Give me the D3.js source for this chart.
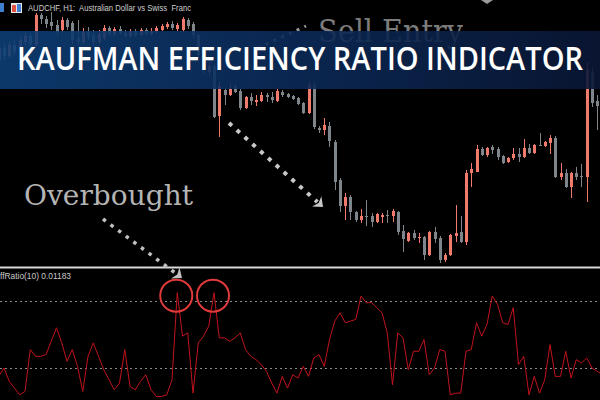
<!DOCTYPE html>
<html><head><meta charset="utf-8">
<script src="https://cdn.jsdelivr.net/npm/d3@7"></script>
<style>html,body{margin:0;padding:0;background:#000;overflow:hidden}</style>
</head><body><svg id="c" width="600" height="400"></svg>
<script>
// ---- data (prices in points, 1e-5 AUDCHF) ----
const openP = [64940,64952,64944,64955,64948,64958,64964,64955,64985,64981,64978,64975,64970,64980,64977,64962,64958,64968,64965,64958,64962,64972,64966,64971,64967,64964,64969,64965,64970,64966,64969,64970,64973,64976,64971,64970,64980,64976,64965,64945,64928,64934,64884,64910,64905,64914,64909,64892,64903,64898,64899,64905,64903,64899,64908,64906,64904,64902,64897,64887,64915,64872,64870,64874,64858,64820,64794,64803,64788,64780,64784,64784,64778,64783,64785,64784,64788,64769,64759,64767,64762,64763,64745,64768,64762,64740,64745,64764,64768,64758,64827,64828,64851,64845,64853,64851,64844,64838,64842,64846,64843,64852,64847,64855,64854,64857,64862,64823,64827,64813,64827,64824,64823,64928,64899,64894];
const highP = [64955,64956,64958,64960,64963,64967,64967,64987,64987,64984,64988,64980,64983,64982,64979,64980,64972,64973,64970,64970,64975,64974,64973,64974,64970,64971,64971,64972,64972,64972,64974,64976,64978,64979,64977,64983,64982,64978,64967,64948,64938,64936,64918,64912,64916,64916,64911,64904,64907,64905,64908,64907,64908,64911,64910,64907,64905,64903,64898,64918,64918,64874,64882,64878,64860,64822,64807,64805,64789,64791,64800,64787,64787,64787,64790,64791,64789,64775,64768,64770,64767,64764,64769,64773,64764,64747,64766,64795,64784,64830,64837,64855,64853,64853,64855,64853,64845,64843,64852,64852,64861,64856,64856,64867,64859,64865,64864,64837,64831,64828,64833,64836,64938,64932,64905,64896];
const lowP = [64938,64940,64942,64945,64946,64955,64952,64953,64976,64972,64970,64964,64968,64970,64956,64955,64956,64960,64955,64956,64960,64964,64964,64965,64962,64962,64963,64964,64964,64965,64967,64969,64971,64970,64969,64968,64971,64962,64942,64926,64924,64882,64863,64895,64904,64907,64890,64891,64895,64894,64898,64898,64897,64898,64903,64902,64900,64895,64886,64886,64871,64867,64865,64853,64810,64788,64780,64780,64778,64777,64774,64773,64777,64777,64777,64778,64765,64748,64758,64760,64757,64740,64744,64757,64737,64738,64744,64758,64757,64755,64813,64828,64844,64843,64846,64840,64836,64837,64840,64838,64842,64846,64846,64854,64853,64846,64822,64820,64812,64802,64820,64813,64798,64893,64870,64885];
const closeP = [64952,64944,64955,64948,64960,64964,64956,64985,64981,64976,64974,64968,64980,64973,64960,64958,64968,64964,64958,64966,64972,64966,64971,64967,64964,64969,64965,64970,64966,64969,64972,64974,64976,64972,64975,64981,64974,64965,64945,64930,64934,64883,64914,64905,64911,64908,64892,64903,64899,64900,64905,64903,64900,64909,64905,64903,64901,64896,64887,64915,64873,64870,64875,64859,64818,64794,64803,64788,64780,64784,64783,64778,64786,64785,64784,64789,64768,64761,64767,64762,64763,64745,64768,64761,64740,64745,64765,64767,64758,64827,64831,64851,64845,64852,64850,64843,64837,64842,64846,64843,64852,64847,64855,64854,64858,64862,64823,64827,64813,64827,64823,64823,64930,64897,64894,64888];
const erValues = [0.15,0.20,0.12,0.08,0.04,0.06,0.31,0.27,0.27,0.28,
 0.36,0.44,0.35,0.24,0.31,0.21,0.06,0.27,0.35,0.27,
 0.19,0.13,0.07,0.11,0.31,0.09,0.07,0.12,0.16,0.07,
 0.03,0.03,0.04,0.13,0.65,0.39,0.41,0.05,0.35,0.39,
 0.45,0.65,0.38,0.38,0.36,0.38,0.41,0.31,0.27,0.25,
 0.22,0.18,0.11,0.05,0.15,0.08,0.16,0.14,0.21,0.15,
 0.26,0.28,0.21,0.37,0.48,0.53,0.47,0.48,0.49,0.63,
 0.59,0.59,0.56,0.53,0.41,0.10,0.41,0.38,0.19,0.30,
 0.30,0.37,0.16,0.20,0.31,0.30,0.04,0.05,0.05,0.30,
 0.31,0.47,0.39,0.46,0.63,0.58,0.47,0.46,0.56,0.22,
 0.27,0.04,0.15,0.05,0.13,0.34,0.15,0.15,0.30,0.14,
 0.25,0.23,0.26,0.20,0.18,0.16];
const erLevels = [0.2, 0.6];
const circledBars = [34, 41];
const symbolTitle = "AUDCHF, H1:  Australian Dollar vs Swiss  Franc";
const indicatorLabel = "ffRatio(10) 0.01183";
const bannerTitle = "KAUFMAN EFFICIENCY RATIO INDICATOR";
const noteSell = "Sell Entry";
const noteOverbought = "Overbought";

// ---- drawing ----
const svg = d3.select("#c");
const N = openP.length;
const x = d3.scaleLinear().domain([0, N - 1]).range([-1.25, 602.5]);
const yP = d3.scaleLinear().domain([64734, 65000]).range([266, 0]);
const yE = d3.scaleLinear().domain([0, 1]).range([401.5, 234]);
const RED = "#f07a6b", GRAY = "#7e858b";

svg.append("rect").attr("width", 600).attr("height", 400).attr("fill", "#000");

const candles = d3.range(N).map(i => ({i, o: openP[i], h: highP[i], l: lowP[i], c: closeP[i]}));
const cg = svg.append("g");
cg.selectAll("line.w").data(candles).join("line")
  .attr("x1", d => Math.round(x(d.i)) + 0.5).attr("x2", d => Math.round(x(d.i)) + 0.5)
  .attr("y1", d => yP(d.h)).attr("y2", d => yP(d.l))
  .attr("stroke", d => d.c > d.o ? RED : GRAY).attr("stroke-width", 1);
cg.selectAll("rect.b").data(candles).join("rect")
  .attr("x", d => Math.round(x(d.i)) - 1).attr("width", 3)
  .attr("y", d => yP(Math.max(d.o, d.c)))
  .attr("height", d => Math.max(1, Math.abs(yP(d.o) - yP(d.c))))
  .attr("fill", d => d.c > d.o ? RED : GRAY);

// dotted arrow helper
function dotted(g, x1, y1, x2, y2, color, w, head) {
  const dx = x2 - x1, dy = y2 - y1, L = Math.hypot(dx, dy), ux = dx / L, uy = dy / L;
  const hl = head ? head * 1.2 : 0;
  g.append("line").attr("x1", x1).attr("y1", y1)
    .attr("x2", x2 - ux * hl * 0.9).attr("y2", y2 - uy * hl * 0.9)
    .attr("stroke", color).attr("stroke-width", w).attr("stroke-dasharray", `${w},${w + 2.5}`);
  if (head) {
    const bx = x2 - ux * hl, by = y2 - uy * hl, px = -uy, py = ux;
    g.append("polygon").attr("points",
      `${x2},${y2} ${bx + px * head},${by + py * head} ${bx + ux * hl * 0.3},${by + uy * hl * 0.3} ${bx - px * head},${by - py * head}`)
      .attr("fill", color);
  }
}

// Sell Entry note (behind banner)
const ag = svg.append("g");
ag.append("text").attr("x", 318).attr("y", 42).text(noteSell)
  .attr("font-family", "DejaVu Serif").attr("font-size", 32).attr("fill", "#7c7c7c")
  .attr("textLength", 145).attr("lengthAdjust", "spacingAndGlyphs");
dotted(ag, 258, 48, 306, 26, "#9a9a9a", 3, 0);
ag.append("polygon").attr("points", "481,0 493,0 487,4").attr("fill", "#9a9a9a");

// banner
const grad = svg.append("defs").append("linearGradient").attr("id", "bg").attr("x1", 0).attr("x2", 1);
grad.append("stop").attr("offset", 0).attr("stop-color", "#0d3e75");
grad.append("stop").attr("offset", 0.5).attr("stop-color", "#0b2a58");
grad.append("stop").attr("offset", 1).attr("stop-color", "#0a1736");
svg.append("rect").attr("x", 0).attr("y", 31).attr("width", 600).attr("height", 58)
  .attr("fill", "url(#bg)").attr("opacity", 0.9);
svg.append("text").attr("x", 17).attr("y", 70).text(bannerTitle)
  .attr("font-family", "Open Sans").attr("font-weight", 600).attr("font-size", 32)
  .attr("fill", "#ffffff").attr("textLength", 566).attr("lengthAdjust", "spacingAndGlyphs");

// chart title + icons
svg.append("rect").attr("x", 0).attr("y", 3).attr("width", 4).attr("height", 9).attr("fill", "#3d7fd0");
svg.append("rect").attr("x", 11).attr("y", 3).attr("width", 11).attr("height", 10).attr("fill", "#e8e8e8");
svg.append("rect").attr("x", 12).attr("y", 5).attr("width", 4).attr("height", 7).attr("fill", "#e05040");
svg.append("rect").attr("x", 17).attr("y", 4).attr("width", 4).attr("height", 8).attr("fill", "#3d7fd0");
svg.append("text").attr("x", 28).attr("y", 11).text(symbolTitle)
  .attr("font-family", "Liberation Sans").attr("font-size", 9.5).attr("fill", "#cfcfcf")
  .attr("textLength", 163).attr("lengthAdjust", "spacingAndGlyphs").style("white-space", "pre");

// Overbought note
svg.append("text").attr("x", 24).attr("y", 205).text(noteOverbought)
  .attr("font-family", "DejaVu Serif").attr("font-size", 27).attr("fill", "#b4b4b4")
  .attr("textLength", 169).attr("lengthAdjust", "spacingAndGlyphs");
dotted(svg, 229, 123, 323, 207, "#c8c8c8", 4, 7);

// indicator panel
svg.append("line").attr("x1", 0).attr("x2", 600).attr("y1", 267.5).attr("y2", 267.5)
  .attr("stroke", "#d8d8d8").attr("stroke-width", 2);
svg.selectAll("line.lvl").data(erLevels).join("line")
  .attr("x1", 0).attr("x2", 600)
  .attr("y1", d => Math.round(yE(d)) + 0.5).attr("y2", d => Math.round(yE(d)) + 0.5)
  .attr("stroke", "#8a8a8a").attr("stroke-width", 1).attr("stroke-dasharray", "2,3");
svg.append("path").datum(erValues)
  .attr("d", d3.line().x((d, i) => x(i)).y(d => yE(d)))
  .attr("fill", "none").attr("stroke", "#c0141c").attr("stroke-width", 1);
svg.selectAll("circle.pk").data(circledBars).join("circle")
  .attr("cx", d => x(d) - 1).attr("cy", d => yE(erValues[d]) + 3).attr("r", 16)
  .attr("fill", "none").attr("stroke", "#e23a3a").attr("stroke-width", 2);
svg.append("text").attr("x", 0).attr("y", 279).text(indicatorLabel)
  .attr("font-family", "Liberation Sans").attr("font-size", 9).attr("fill", "#c8c8c8")
  .attr("textLength", 71).attr("lengthAdjust", "spacingAndGlyphs");
dotted(svg, 103, 219, 182, 278, "#c0c0c0", 3.5, 7);
</script></body></html>
